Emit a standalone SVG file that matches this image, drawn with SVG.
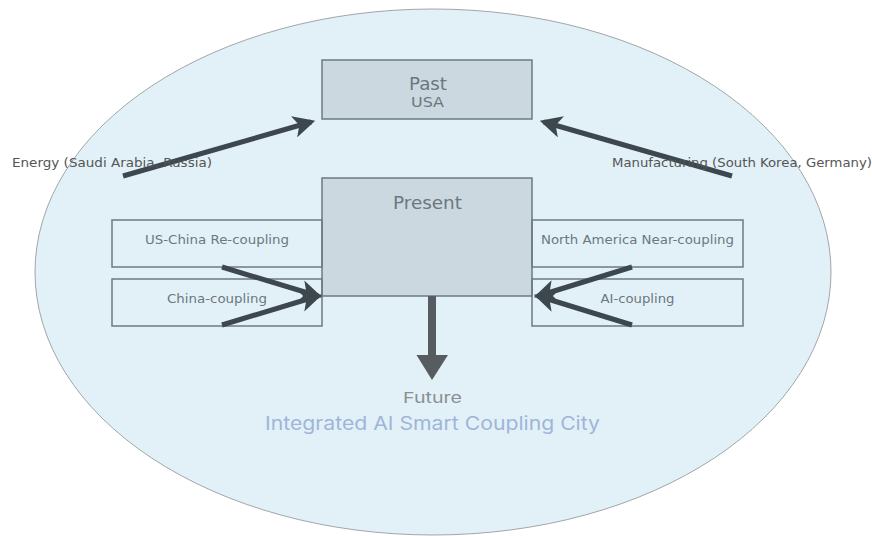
<svg xmlns="http://www.w3.org/2000/svg" width="872" height="536" viewBox="0 0 872 536">
<defs>
<style>
.box{fill:#cbd8df;stroke:#6e7a80;stroke-width:1.5}
.side{fill:none;stroke:#6e7a80;stroke-width:1.5}
.t{font-family:"DejaVu Sans",sans-serif;fill:#6c777e;text-anchor:middle}
.lbl{font-family:"DejaVu Sans",sans-serif;fill:#555;font-size:12px}
.arr{stroke:#3d474e;stroke-width:5;fill:none;marker-end:url(#ah)}
</style>
<marker id="ah" viewBox="0 0 10 10" refX="8" refY="5" markerWidth="4.4" markerHeight="4.4" orient="auto" markerUnits="strokeWidth">
<path d="M0,0 L10,5 L0,10 L2.5,5 Z" fill="#3d474e"/>
</marker>
</defs>
<rect width="872" height="536" fill="#ffffff"/>
<ellipse cx="433" cy="272" rx="398" ry="263" fill="#e2f1f7" stroke="#a0a7aa" stroke-width="1"/>
<g id="past">
<rect class="box" x="322" y="60" width="210" height="59"/>
<text class="t" x="428" y="90" font-size="17" textLength="38" lengthAdjust="spacingAndGlyphs">Past</text>
<text class="t" x="427.5" y="107" font-size="14" textLength="33" lengthAdjust="spacingAndGlyphs">USA</text>
</g>
<g id="present">
<rect class="box" x="322" y="178" width="210" height="118"/>
<text class="t" x="427.5" y="209" font-size="17" textLength="69" lengthAdjust="spacingAndGlyphs">Present</text>
</g>
<g id="us-china">
<rect class="side" x="112" y="220" width="210" height="47"/>
<text class="t" x="217" y="244" font-size="12.5" textLength="144" lengthAdjust="spacingAndGlyphs">US-China Re-coupling</text>
</g>
<g id="china">
<rect class="side" x="112" y="279" width="210" height="47"/>
<text class="t" x="217" y="302.5" font-size="12.5" textLength="100" lengthAdjust="spacingAndGlyphs">China-coupling</text>
</g>
<g id="north-america">
<rect class="side" x="532" y="220" width="211" height="47"/>
<text class="t" x="637.5" y="244" font-size="12.5" textLength="193" lengthAdjust="spacingAndGlyphs">North America Near-coupling</text>
</g>
<g id="ai">
<rect class="side" x="532" y="279" width="211" height="47"/>
<text class="t" x="637.5" y="302.5" font-size="12.5" textLength="74" lengthAdjust="spacingAndGlyphs">AI-coupling</text>
</g>
<g id="future">
<text x="432.5" y="403" font-family="Inter,'Open Sans',sans-serif" font-size="15" fill="#8a8f92" text-anchor="middle" textLength="59" lengthAdjust="spacingAndGlyphs">Future</text>
<text x="432.5" y="430" font-family="Inter,'Open Sans',sans-serif" font-size="18.5" fill="#9fb5d9" text-anchor="middle" textLength="335" lengthAdjust="spacingAndGlyphs">Integrated AI Smart Coupling City</text>
</g>
<g id="connectors">
<line class="arr" x1="123" y1="176" x2="311" y2="122"/>
<line class="arr" x1="732" y1="176" x2="544" y2="122"/>
<line class="arr" x1="222" y1="267" x2="318" y2="296"/>
<line class="arr" x1="222" y1="325" x2="318" y2="296"/>
<line class="arr" x1="632" y1="267" x2="538" y2="296"/>
<line class="arr" x1="632" y1="325" x2="538" y2="296"/>
<line x1="432" y1="296" x2="432" y2="356" stroke="#565c60" stroke-width="8"/>
<path d="M416.5,355 L448,355 L432,380 Z" fill="#565c60"/>
</g>
<g id="side-labels">
<text class="lbl" x="12" y="167" textLength="200" lengthAdjust="spacingAndGlyphs">Energy (Saudi Arabia, Russia)</text>
<text class="lbl" x="612" y="167" textLength="260" lengthAdjust="spacingAndGlyphs">Manufacturing (South Korea, Germany)</text>
</g>
</svg>
